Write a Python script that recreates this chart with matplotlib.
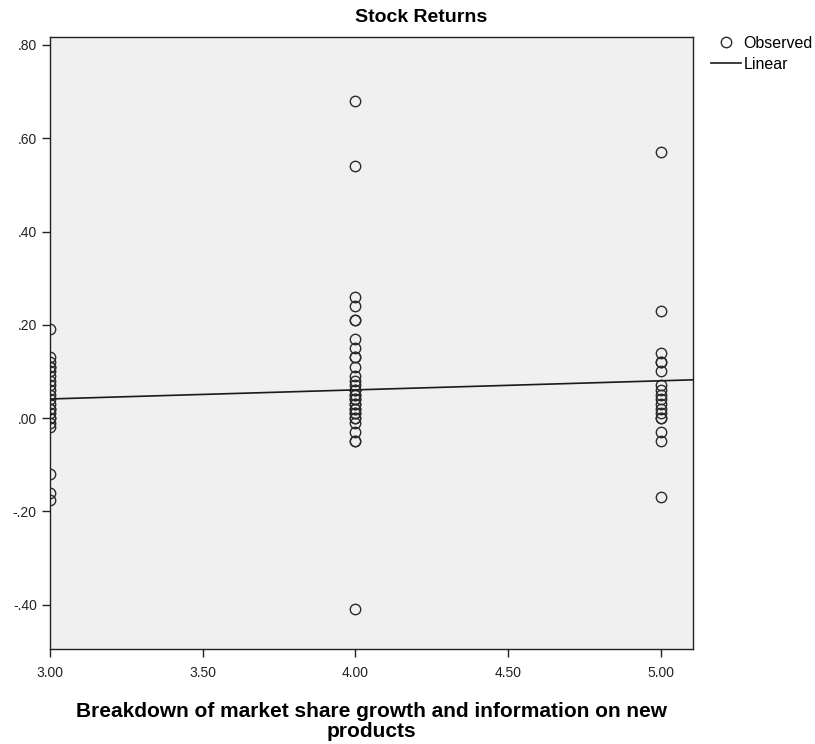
import matplotlib.pyplot as plt
import numpy as np

x_levels = [3.0, 4.0, 5.0]
y_at_3 = [0.19, 0.13, 0.12, 0.11, 0.11, 0.10, 0.09, 0.08, 0.07, 0.06, 0.05,
          0.04, 0.03, 0.02, 0.02, 0.01, 0.00, 0.00, -0.01, -0.02,
          -0.12, -0.16, -0.175]
y_at_4 = [0.68, 0.54, 0.26, 0.24, 0.21, 0.21, 0.17, 0.15, 0.13, 0.13, 0.11,
          0.09, 0.08, 0.07, 0.06, 0.06, 0.05, 0.05, 0.04, 0.04, 0.03, 0.03,
          0.02, 0.02, 0.01, 0.01, 0.00, 0.00, -0.01, -0.03, -0.05, -0.05,
          -0.41]
y_at_5 = [0.57, 0.23, 0.14, 0.12, 0.12, 0.10, 0.07, 0.06, 0.05, 0.04, 0.03,
          0.02, 0.01, 0.00, 0.00, -0.03, -0.05, -0.17]

# Linear fit line as seen in the chart
fit_intercept = -0.0175
fit_slope = 0.0195

x_ticks = [3.0, 3.5, 4.0, 4.5, 5.0]
y_ticks = [-0.4, -0.2, 0.0, 0.2, 0.4, 0.6, 0.8]

plt.rcParams['font.family'] = ['Liberation Sans', 'DejaVu Sans']

fig = plt.figure(figsize=(8.15, 7.44), dpi=100)
ax = fig.add_axes([50 / 815, 1 - 649 / 744, (693 - 50) / 815, (649 - 37) / 744])
ax.set_facecolor("#f0f0f0")

xs = np.concatenate([np.full(len(y_at_3), x_levels[0]),
                     np.full(len(y_at_4), x_levels[1]),
                     np.full(len(y_at_5), x_levels[2])])
ys = np.concatenate([y_at_3, y_at_4, y_at_5])

ax.plot(xs, ys, linestyle="none", marker="o", markersize=7.5,
        markerfacecolor="none", markeredgecolor="#2b2b2b", markeredgewidth=1.0,
        label="Observed")

xl = np.array([3.0, 5.105])
ax.plot(xl, fit_intercept + fit_slope * xl, color="#1a1a1a", linewidth=1.2,
        label="Linear")

ax.set_xlim(3.0, 5.105)
ax.set_ylim(-0.495, 0.817)
ax.set_xticks(x_ticks)
ax.set_xticklabels([f"{v:.2f}" for v in x_ticks])
ax.set_yticks(y_ticks)
ax.set_yticklabels([f"{v:.2f}".replace("0.", ".") for v in y_ticks])
ax.tick_params(direction="out", length=6, width=1, labelsize=10, colors="#222222")
ax.tick_params(axis="x", pad=6)

for s in ax.spines.values():
    s.set_color("#222222")
    s.set_linewidth(1.0)

ax.set_xlabel("Breakdown of market share growth and information on new\nproducts",
              fontsize=15, fontweight="bold", labelpad=16, linespacing=1.05)

fig.text(421 / 815, 1 - 17 / 744, "Stock Returns", ha="center", va="center",
         fontsize=14, fontweight="bold")

fig.legend(loc="upper left", bbox_to_anchor=(711 / 815, 1 - 36 / 744),
           frameon=False, fontsize=11.5, handlelength=1.9, handletextpad=0.15,
           borderpad=0.0, labelspacing=0.35, borderaxespad=0)

fig.savefig("out.png", dpi=100)
